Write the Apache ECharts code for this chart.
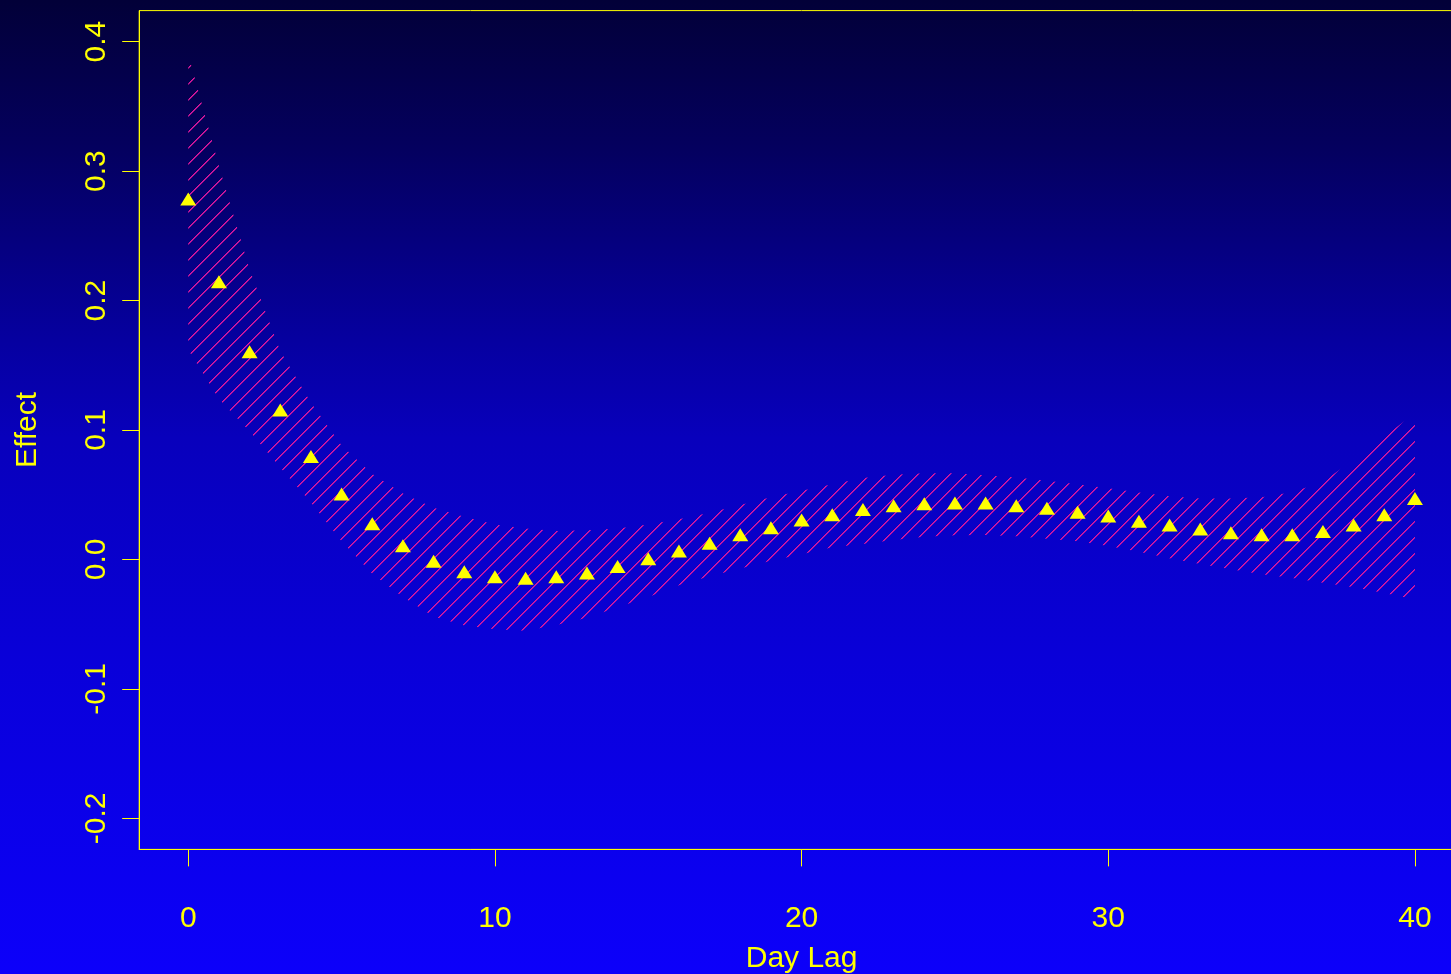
<!DOCTYPE html>
<html>
<head>
<meta charset="utf-8">
<title>Effect by Day Lag</title>
<script src="https://cdn.jsdelivr.net/npm/echarts@6/dist/echarts.min.js"></script>
<style>
  html, body { margin: 0; padding: 0; overflow: hidden; }
  body {
    width: 1451px;
    height: 974px;
    background: linear-gradient(to bottom, #020038 0%, #04005e 15%, #0600a0 35%, #0800bc 45%, #0900d8 67%, #0b00f0 90%, #0c00fa 100%);
  }
  /* plot region runs a little past the right edge of the window, as in the original */
  #chart { width: 1465px; height: 974px; }
</style>
</head>
<body>
<div id="chart"></div>
<script>
// lag in days
const lags = [0, 1, 2, 3, 4, 5, 6, 7, 8, 9, 10, 11, 12, 13, 14, 15, 16, 17, 18, 19, 20,
  21, 22, 23, 24, 25, 26, 27, 28, 29, 30, 31, 32, 33, 34, 35, 36, 37, 38, 39, 40]

// point estimates (triangles)
const effect = [0.277, 0.213, 0.159, 0.114, 0.078, 0.049, 0.026, 0.009, -0.003, -0.011,
  -0.015, -0.016, -0.015, -0.012, -0.007, -0.001, 0.005, 0.011, 0.0175, 0.023,
  0.029, 0.033, 0.037, 0.040, 0.0415, 0.042, 0.042, 0.040, 0.038, 0.035,
  0.032, 0.028, 0.025, 0.022, 0.019, 0.0175, 0.0175, 0.020, 0.025, 0.033, 0.0455]

// confidence band (hatched)
const upper = [0.390, 0.304, 0.224, 0.161, 0.121, 0.088, 0.066, 0.051, 0.040, 0.033,
  0.027, 0.024, 0.022, 0.0225, 0.024, 0.027, 0.031, 0.036, 0.042, 0.048,
  0.053, 0.058, 0.063, 0.0655, 0.0665, 0.0665, 0.065, 0.0633, 0.0607, 0.058,
  0.055, 0.0517, 0.0488, 0.047, 0.047, 0.048, 0.052, 0.060, 0.077, 0.095, 0.113]
const lower = [0.162, 0.124, 0.099, 0.071, 0.044, 0.014, -0.011, -0.029, -0.044, -0.051,
  -0.054, -0.055, -0.0506, -0.045, -0.037, -0.029, -0.020, -0.013, -0.007, -0.001,
  0.004, 0.0095, 0.012, 0.015, 0.0175, 0.0187, 0.0188, 0.018, 0.016, 0.014,
  0.0103, 0.006, 0.001, -0.0035, -0.0075, -0.0115, -0.0143, -0.018, -0.0215, -0.026, -0.031]

const xTicks = [0, 10, 20, 30, 40]
const yTicks = [-0.2, -0.1, 0, 0.1, 0.2, 0.3, 0.4]

const yellow = '#ffff00'

// diagonal hatch, like R's polygon(density=, angle=45)
const makeHatch = () => {
  const size = 16
  const c = document.createElement('canvas')
  c.width = size
  c.height = size
  const ctx = c.getContext('2d')
  for (let x = 0; x < size; x++) {
    const y = size - 1 - x
    ctx.fillStyle = '#e0189e'
    ctx.fillRect(x, y, 1, 1)
    ctx.fillStyle = 'rgba(224, 24, 158, 0.7)'
    ctx.fillRect((x + 1) % size, y, 1, 1)
  }
  return { image: c, repeat: 'repeat' }
}

const hatch = makeHatch()
const chart = echarts.init(document.getElementById('chart'), null, { renderer: 'canvas' })

const labelFont = { color: yellow, fontFamily: 'Liberation Sans, Arial, sans-serif', fontSize: 30 }

const option = {
  animation: false,
  backgroundColor: 'transparent',
  grid: {
    left: 139.2,
    top: 10.6,
    right: 1,
    bottom: 124.6,
    outerBoundsMode: 'none',
    containLabel: false,
    show: true,
    borderColor: yellow,
    borderWidth: 1,
    backgroundColor: 'transparent'
  },
  xAxis: {
    type: 'value',
    min: -1.6,
    max: 41.6,
    name: 'Day Lag',
    nameLocation: 'middle',
    nameGap: 94,
    nameTextStyle: labelFont,
    axisLine: { show: true, onZero: false, lineStyle: { color: yellow, width: 1 } },
    axisTick: { show: true, length: 17, lineStyle: { color: yellow }, customValues: xTicks },
    axisLabel: { ...labelFont, margin: 54, customValues: xTicks },
    splitLine: { show: false }
  },
  yAxis: {
    type: 'value',
    min: -0.224,
    max: 0.424,
    name: 'Effect',
    nameLocation: 'middle',
    nameGap: 96,
    nameTextStyle: labelFont,
    axisLine: { show: true, onZero: false, lineStyle: { color: yellow, width: 1 } },
    axisTick: { show: true, length: 17, lineStyle: { color: yellow }, customValues: yTicks },
    axisLabel: {
      ...labelFont,
      margin: 27,
      rotate: 90,
      customValues: yTicks,
      formatter: (v) => v.toFixed(1)
    },
    splitLine: { show: false }
  },
  series: [
    {
      type: 'custom',
      silent: true,
      z: 1,
      data: lags.map((l, i) => [l, lower[i], upper[i]]),
      renderItem: (params, api) => {
        if (params.dataIndex !== 0) return null
        const top = lags.map((l, i) => api.coord([l, upper[i]]))
        const bottom = lags.map((l, i) => api.coord([l, lower[i]])).reverse()
        return {
          type: 'polygon',
          shape: { points: top.concat(bottom) },
          style: { fill: hatch, stroke: null }
        }
      }
    },
    {
      type: 'scatter',
      silent: true,
      z: 3,
      symbol: 'triangle',
      symbolSize: [16, 13],
      symbolOffset: [0, -2],
      itemStyle: { color: yellow, opacity: 1 },
      data: lags.map((l, i) => [l, effect[i]])
    }
  ]
}

chart.setOption(option)
</script>
</body>
</html>
